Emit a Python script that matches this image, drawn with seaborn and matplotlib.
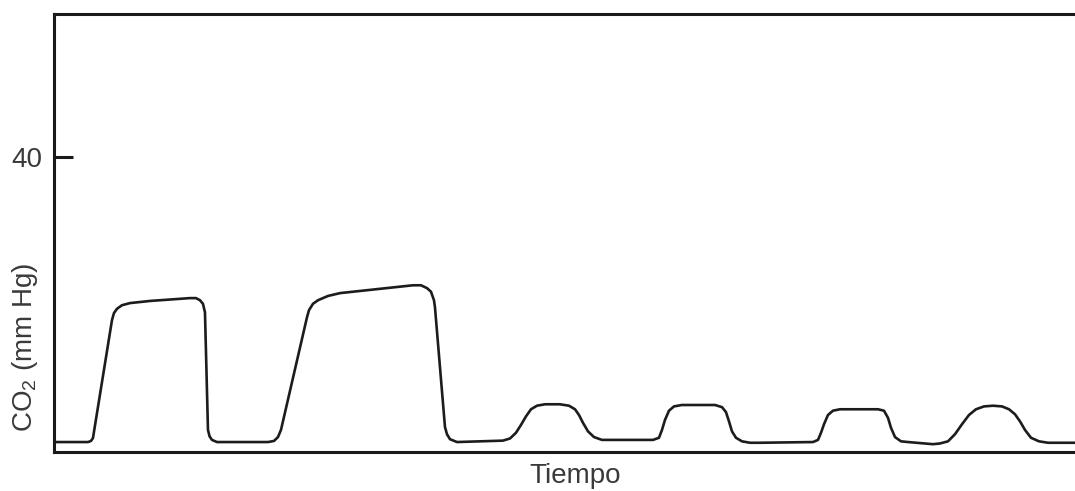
import numpy as np
import pandas as pd
import seaborn as sns
import matplotlib.pyplot as plt

# capnogram trace (time in s, CO2 in mm Hg)
tiempo = [0.05, 1.7, 1.85, 1.95, 2.9, 3.0, 3.15, 3.4, 3.8, 4.8, 6.8, 7.1, 7.3, 7.45, 7.55,
          7.7, 7.78, 7.9, 8.15,
          10.7, 11.0, 11.2, 11.35, 12.65, 12.75, 12.95, 13.2, 13.7, 14.3, 17.95, 18.35, 18.65,
          18.85, 19.0, 19.05, 19.55, 19.65, 19.8, 20.15,
          22.45, 22.8, 23.1, 23.35, 23.6, 23.85, 24.15, 24.55, 25.3, 25.75, 26.05, 26.25, 26.45,
          26.7, 27.0, 27.4,
          29.95, 30.25, 30.4, 30.55, 30.75, 31.0, 31.4, 33.05, 33.4, 33.6, 33.75, 33.9, 34.1,
          34.4, 34.8, 35.3,
          37.95, 38.2, 38.35, 38.5, 38.7, 38.95, 39.3, 41.2, 41.5, 41.7, 41.85, 42.05, 42.35,
          42.7, 43.95,
          44.3, 44.7, 45.05, 45.4, 45.75, 46.1, 46.5, 46.95, 47.4, 47.75, 48.05, 48.3, 48.55,
          48.85, 49.25, 49.7, 51.05]
co2 = [0, 0, 0.15, 0.56, 17.1, 18.1, 18.7, 19.2, 19.5, 19.8, 20.2, 20.2, 19.9, 19.4, 18.2,
       1.7, 0.8, 0.3, 0,
       0, 0.15, 0.7, 1.7, 17.5, 18.5, 19.4, 19.9, 20.5, 20.9, 22.0, 22.0, 21.6,
       21.1, 19.9, 18.9, 2.1, 1.1, 0.4, 0,
       0.2, 0.5, 1.3, 2.4, 3.6, 4.6, 5.1, 5.3, 5.3, 5.1, 4.6, 3.8, 2.7,
       1.5, 0.7, 0.3,
       0.3, 0.6, 1.7, 3.1, 4.4, 5.0, 5.2, 5.2, 4.9, 4.2, 2.9, 1.5, 0.6,
       0.1, -0.1, -0.1,
       0, 0.3, 1.3, 2.5, 3.8, 4.4, 4.6, 4.6, 4.4, 3.4, 2.0, 0.7, 0.1,
       0, -0.3,
       -0.2, 0.1, 1.1, 2.5, 3.8, 4.6, 5.0, 5.1, 5.0, 4.6, 3.9, 2.9, 1.7,
       0.6, 0.1, -0.1, -0.1]
ytick_vals = [40]
ytick_labels = ["40"]

df = pd.DataFrame({"t": tiempo, "co2": co2})

sns.set_style("white")
plt.rcParams["font.family"] = ["Liberation Sans", "DejaVu Sans"]
plt.rcParams["mathtext.fontset"] = "custom"
plt.rcParams["mathtext.rm"] = "Liberation Sans"
plt.rcParams["mathtext.it"] = "Liberation Sans:italic"

fig = plt.figure(figsize=(10.75, 4.91), dpi=100)
ax = fig.add_axes([0.0502, 0.0804, 0.9498, 0.8911])

sns.lineplot(data=df, x="t", y="co2", ax=ax, sort=False, color="#1c1c1c", linewidth=1.9,
             solid_joinstyle="round", solid_capstyle="round")

ax.set_xlim(0, 51.05)
ax.set_ylim(-1.33, 60.07)
ax.set_xticks([])
ax.set_yticks(ytick_vals)
ax.set_yticklabels(ytick_labels)
ax.tick_params(axis="y", direction="in", length=14, width=2.2, color="#1a1a1a",
               labelsize=20, labelcolor="#3a3a3a", pad=8, left=True)

for side in ["left", "bottom", "top"]:
    ax.spines[side].set_linewidth(2.2)
    ax.spines[side].set_color("#1a1a1a")
ax.spines["right"].set_visible(False)

ax.set_xlabel("Tiempo", fontsize=20, color="#3a3a3a")
ax.set_ylabel(r"CO$_\mathregular{2}$ (mm Hg)", fontsize=20, color="#3a3a3a")
ax.xaxis.set_label_coords(0.510, -0.026)
ax.yaxis.set_label_coords(-0.014, 0.239)

fig.savefig("out.png", dpi=100)
